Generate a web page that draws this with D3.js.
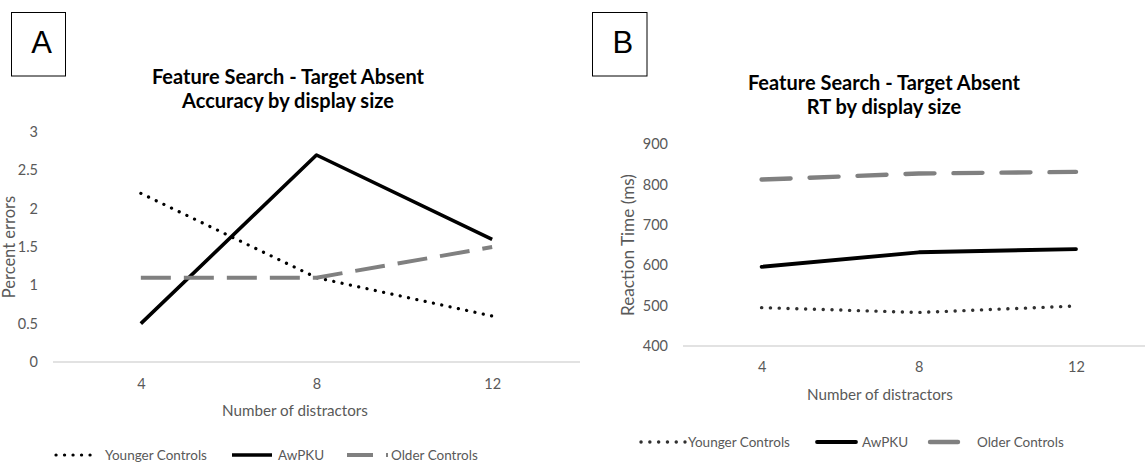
<!DOCTYPE html>
<html>
<head>
<meta charset="utf-8">
<script src="https://cdn.jsdelivr.net/npm/d3@7/dist/d3.min.js"></script>
<style>
  html, body { margin: 0; padding: 0; background: #fff; }
  svg { display: block; }
  text { font-family: Lato, "Open Sans", sans-serif; }
</style>
</head>
<body>
<svg id="fig" width="1145" height="463"></svg>
<script>
// Display sizes (number of distractors)
const categories = ["4", "8", "12"];

// Panel A: percent errors, target absent
const accYounger = [2.2, 1.1, 0.6];
const accAwPKU = [0.5, 2.7, 1.6];
const accOlder = [1.1, 1.1, 1.5];
const accTicks = [0, 0.5, 1, 1.5, 2, 2.5, 3];

// Panel B: reaction time (ms), target absent
const rtYounger = [495, 483, 499];
const rtAwPKU = [596, 632, 640];
const rtOlder = [812, 827, 831];
const rtTicks = [400, 500, 600, 700, 800, 900];

const seriesNames = ["Younger Controls", "AwPKU", "Older Controls"];

const svg = d3.select("#fig");
const GREY_TEXT = "#595959";

function drawPanel(cfg) {
  const g = svg.append("g");

  // panel letter box
  g.append("rect")
    .attr("x", cfg.box[0]).attr("y", 12.5)
    .attr("width", cfg.box[1]).attr("height", 63.5)
    .attr("fill", "none").attr("stroke", "#000").attr("stroke-width", 1);
  g.append("text")
    .attr("x", cfg.box[0] + cfg.box[1] / 2 + 3).attr("y", 53)
    .attr("text-anchor", "middle")
    .style("font-family", "'Liberation Sans', Arial, sans-serif")
    .style("font-size", "31px")
    .attr("fill", "#000")
    .text(cfg.letter);

  // title
  cfg.title.forEach((line, i) => {
    g.append("text")
      .attr("x", cfg.titleX).attr("y", cfg.titleY + i * 23.5)
      .attr("text-anchor", "middle")
      .style("font-size", "20px").style("font-weight", "bold")
      .attr("fill", "#000")
      .text(line);
  });

  const x = d3.scalePoint().domain(categories).range(cfg.xRange).padding(0.5);
  const y = d3.scaleLinear().domain(cfg.yDomain).range(cfg.yRange);

  // baseline
  g.append("line")
    .attr("x1", cfg.xRange[0]).attr("x2", cfg.xRange[1])
    .attr("y1", y(cfg.yDomain[0])).attr("y2", y(cfg.yDomain[0]))
    .attr("stroke", "#d9d9d9").attr("stroke-width", 1.3);

  // y axis tick labels
  const yAxis = d3.axisLeft(y).tickValues(cfg.yTicks).tickSize(0).tickPadding(0)
    .tickFormat(d3.format("~g"));
  const ya = g.append("g").attr("transform", `translate(${cfg.yLabelX},0)`).call(yAxis);
  ya.select(".domain").remove();
  ya.selectAll("text").attr("fill", GREY_TEXT)
    .style("font-size", "14.5px").style("font-family", "Lato, sans-serif");

  // x axis tick labels
  const xAxis = d3.axisBottom(x).tickSize(0).tickPadding(0);
  const xa = g.append("g").attr("transform", `translate(0,${cfg.xLabelY})`).call(xAxis);
  xa.select(".domain").remove();
  xa.selectAll("text").attr("fill", GREY_TEXT)
    .style("font-size", "14.5px").style("font-family", "Lato, sans-serif");

  // axis titles
  g.append("text")
    .attr("transform", `translate(${cfg.yTitle[0]},${cfg.yTitle[1]}) rotate(-90)`)
    .attr("text-anchor", "middle").attr("dy", "0.35em")
    .style("font-size", cfg.yTitleSize).attr("fill", GREY_TEXT)
    .text(cfg.yTitleText);
  g.append("text")
    .attr("x", cfg.xTitle[0]).attr("y", cfg.xTitle[1])
    .attr("text-anchor", "middle").attr("dy", "0.35em")
    .style("font-size", "15.2px").attr("fill", GREY_TEXT)
    .text("Number of distractors");

  // series
  const line = d3.line().x((d, i) => x(categories[i])).y(d => y(d));
  cfg.data.forEach((vals, i) => {
    const st = cfg.styles[i];
    g.append("path")
      .attr("d", line(vals))
      .attr("fill", "none")
      .attr("stroke", st.color)
      .attr("stroke-width", st.width)
      .attr("stroke-dasharray", st.dash)
      .attr("stroke-linecap", st.cap)
      .attr("stroke-linejoin", "round");
  });

  // legend
  const lg = g.append("g");
  cfg.legend.forEach((it, i) => {
    const st = cfg.styles[i];
    lg.append("line")
      .attr("x1", it[0]).attr("x2", it[1])
      .attr("y1", cfg.legendY).attr("y2", cfg.legendY)
      .attr("stroke", st.color).attr("stroke-width", st.width)
      .attr("stroke-dasharray", st.legendDash !== undefined ? st.legendDash : st.dash)
      .attr("stroke-linecap", st.cap);
    lg.append("text")
      .attr("x", it[2]).attr("y", cfg.legendY).attr("dy", "0.35em")
      .style("font-size", "13.5px").attr("fill", GREY_TEXT)
      .text(seriesNames[i]);
  });
}

drawPanel({
  letter: "A",
  box: [11.5, 54],
  title: ["Feature Search - Target Absent", "Accuracy by display size"],
  titleX: 288, titleY: 84,
  xRange: [53, 580],
  yDomain: [0, 3], yRange: [362, 132], yTicks: accTicks,
  yLabelX: 38, xLabelY: 379,
  yTitle: [9.5, 247], yTitleText: "Percent errors", yTitleSize: "16.5px",
  xTitle: [295, 411],
  data: [accYounger, accAwPKU, accOlder],
  styles: [
    { color: "#000", width: 3.2, dash: "0.1 8.4", cap: "round" },
    { color: "#000", width: 3.6, dash: null, cap: "butt" },
    { color: "#808080", width: 4, dash: "30 13", cap: "butt", legendDash: "26 13" }
  ],
  legendY: 455,
  legend: [[56, 97, 105], [232, 272, 278], [347, 388, 391]]
});

drawPanel({
  letter: "B",
  box: [592.5, 54.5],
  title: ["Feature Search - Target Absent", "RT by display size"],
  titleX: 884, titleY: 90,
  xRange: [683, 1154.6],
  yDomain: [400, 900], yRange: [346, 144], yTicks: rtTicks,
  yLabelX: 668, xLabelY: 361.3,
  yTitle: [628, 245], yTitleText: "Reaction Time (ms)", yTitleSize: "17.2px",
  xTitle: [880, 395],
  data: [rtYounger, rtAwPKU, rtOlder],
  styles: [
    { color: "#303030", width: 3.4, dash: "0.1 8.7", cap: "round" },
    { color: "#000", width: 3.8, dash: null, cap: "round" },
    { color: "#808080", width: 4.4, dash: "29 19", cap: "round", legendDash: null }
  ],
  legendY: 442,
  legend: [[641, 685, 688], [817, 856, 862], [930, 958, 977]]
});
</script>
</body>
</html>
